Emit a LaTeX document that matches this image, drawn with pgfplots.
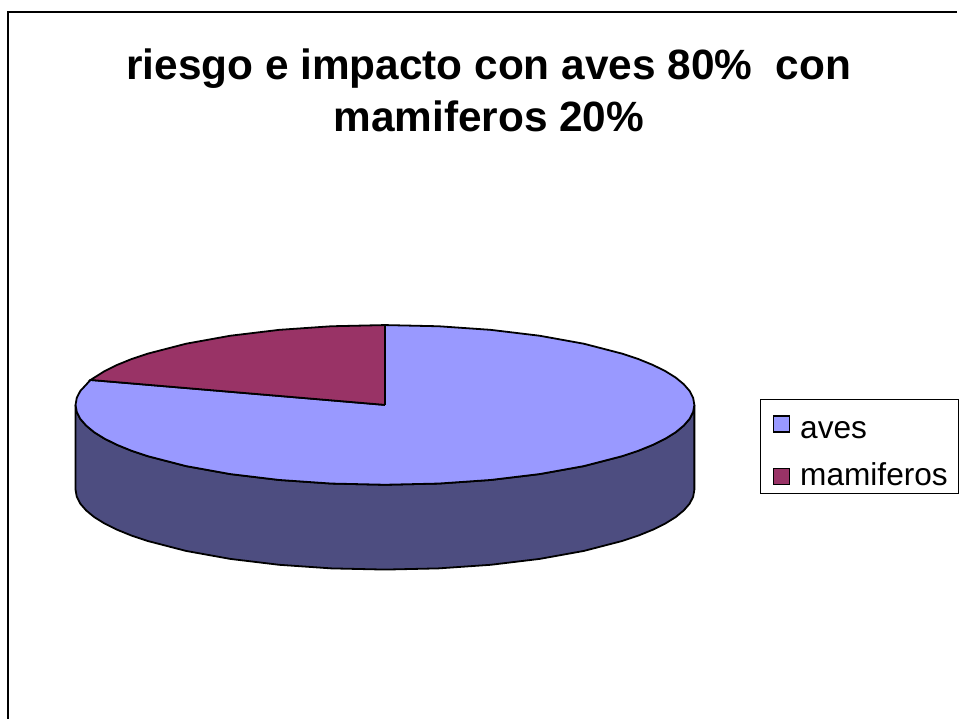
\documentclass[border=0pt]{standalone}
\usepackage{pgfplots}
\pgfplotsset{compat=1.18}
\usepackage{fontspec}
\setmainfont{Liberation Sans}
\definecolor{cblue}{HTML}{9999FF}
\definecolor{cred}{HTML}{993366}
\definecolor{cside}{HTML}{4D4D80}
\begin{document}
\begin{tikzpicture}
\begin{axis}[
  scale only axis, width=959bp, height=720bp,
  xmin=-0.7, xmax=958.3, ymin=-0.7, ymax=719.3, y dir=reverse,
  ticks=none, axis line style={draw=none},
  clip=false,
  title={riesgo e impacto con aves 80\%\ \ con\\mamiferos 20\%},
  title style={at={(axis cs:489,50.5)},anchor=north,align=center,
    font=\fontsize{42.6}{52}\selectfont\bfseries},
  legend cell align=left,
  legend style={at={(axis cs:760.5,399)},anchor=north west,draw=black,line width=1.5bp,
    font=\fontsize{31.8}{36}\selectfont,inner xsep=7.5bp,inner ysep=3bp,
    row sep=17bp,
    nodes={inner sep=3bp}},
  legend image code/.code={\path (0bp,0bp) (27.5bp,0bp);\draw[#1,line width=1.3bp,draw=black] (4.5bp,-9bp) rectangle (20.5bp,7bp);},
]
% chart-area border
\addplot[black,line width=2bp,forget plot] coordinates {(7.5,719.3)(7.5,11)(958.3,11)};
% side wall
\addplot[fill=cside,draw=black,line width=1.8bp,forget plot] coordinates {
(75,405)(75,490)(76.2,497)(79.7,503.9)(85.6,510.7)(93.7,517.4)(104,523.8)(116.5,530)(131,535.9)(147.5,541.4)(185.7,551.3)(230,559.3)(279,565.2)(331.2,568.8)(385,570)(438.8,568.8)(491,565.2)(540,559.3)(584.3,551.3)(622.5,541.4)(639,535.9)(653.5,530)(666,523.8)(676.3,517.4)(684.4,510.7)(690.3,503.9)(693.8,497)(695,490)
(695,405)(693.8,412)(690.3,418.9)(684.4,425.7)(676.3,432.4)(666,438.8)(653.5,445)(639,450.9)(622.5,456.4)(584.3,466.3)(540,474.3)(491,480.2)(438.8,483.8)(385,485)(331.2,483.8)(279,480.2)(230,474.3)(185.7,466.3)(147.5,456.4)(131,450.9)(116.5,445)(104,438.8)(93.7,432.4)(85.6,425.7)(79.7,418.9)(76.2,412)(75,405)};
% aves
\addplot[fill=cblue,draw=black,line width=1.8bp] coordinates {
(385,405)(385,325)(438.8,326.2)(491,329.8)(540,335.7)(584.3,343.7)(622.5,353.6)(639,359.1)(653.5,365)(666,371.2)(676.3,377.6)(684.4,384.3)(690.3,391.1)(693.8,398)(695,405)(693.8,412)(690.3,418.9)(684.4,425.7)(676.3,432.4)(666,438.8)(653.5,445)(639,450.9)(622.5,456.4)(584.3,466.3)(540,474.3)(491,480.2)(438.8,483.8)(385,485)(331.2,483.8)(279,480.2)(230,474.3)(185.7,466.3)(147.5,456.4)(131,450.9)(116.5,445)(104,438.8)(93.7,432.4)(85.6,425.7)(79.7,418.9)(76.2,412)(75,405)(76.2,398)(79.7,391.1)(90,380)(385,405)};
\addlegendentry{\rule{0pt}{33bp}aves}
% mamiferos
\addplot[fill=cred,draw=black,line width=1.8bp] coordinates {
(385,405)(385,325)(331.2,326.2)(279,329.8)(230,335.7)(185.7,343.7)(147.5,353.6)(131,359.1)(116.5,365)(104,371.2)(90,380)(385,405)};
\addlegendentry{mamiferos}
\end{axis}
\end{tikzpicture}
\end{document}
